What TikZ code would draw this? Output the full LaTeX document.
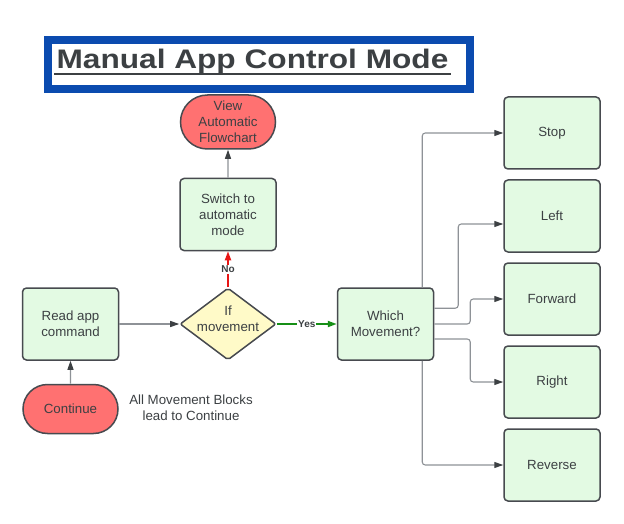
\documentclass[tikz,border=0pt]{standalone}
\usepackage{fontspec}
\setmainfont{Liberation Sans}
\usepackage{tikz}
\usetikzlibrary{arrows.meta, positioning, shapes.geometric, shapes.misc}
\definecolor{colorText}{HTML}{3C4043}
\definecolor{colorBorder}{HTML}{474A4F}
\definecolor{colorLine}{HTML}{8E9297}
\definecolor{colorProcess}{HTML}{E3FAE3}
\definecolor{colorTerminal}{HTML}{FF7171}
\definecolor{colorDecision}{HTML}{FFFAC8}
\definecolor{colorTitle}{HTML}{0B4BAF}
\definecolor{colorNo}{HTML}{E81515}
\definecolor{colorYes}{HTML}{168F16}
\tikzset{
  process/.style={draw=colorBorder, line width=1.5pt, fill=colorProcess, rounded corners=4pt,
    minimum width=96pt, minimum height=72pt, align=center, text=colorText,
    font=\fontsize{13.3}{16}\selectfont},
  terminal/.style={process, sharp corners, rounded rectangle, fill=colorTerminal, inner sep=1pt,
    minimum width=97pt},
  decision/.style={draw=colorBorder, line width=1.5pt, fill=colorDecision, diamond, rounded corners=2pt,
    minimum width=96pt, minimum height=72pt, inner sep=0pt},
  link/.style={draw=colorLine, line width=1.1pt, rounded corners=3pt,
    -{Triangle[length=9pt, width=6pt, color=colorText]}},
  answer/.style={line width=1.8pt, -{Triangle[length=9pt, width=6pt]}},
  tag/.style={fill=white, inner sep=1pt, text=colorText, font=\fontsize{10}{12}\selectfont\bfseries}
}

\begin{document}
\begin{tikzpicture}[x=1pt, y=-1pt, node distance=9.5pt]
\useasboundingbox[fill=white] (0,0) rectangle (624,524);
% title
\draw[colorTitle, line width=8pt] (47.5,40) rectangle (470,89);
\node[anchor=base, inner sep=0pt, text=colorText, font=\fontsize{26.8}{30}\selectfont\bfseries] (title) at (252.5,69) {\scalebox{1.18}[1]{Manual App Control Mode}};
\draw[colorText, line width=2.4pt] ([yshift=-5pt, xshift=-2pt]title.base west) -- ([yshift=-5pt, xshift=2pt]title.base east);
% left part
\node[decision, label={[align=center, yshift=5pt, text=colorText, font=\fontsize{13.3}{16}\selectfont]center:If\\movement}] (ifmove) at (228,324) {};
\node[process, left=60pt of ifmove] (read) {Read app\\command};
\node[terminal, minimum height=49pt, below=23pt of read] (cont) {Continue};
\node[process, above=36pt of ifmove] (switch) {Switch to\\automatic\\mode};
\node[terminal, minimum height=54pt, above=28pt of switch] (view) {View\\Automatic\\Flowchart};
\node[align=center, text=colorText, font=\fontsize{13.3}{16}\selectfont] (note) at (191,408) {All Movement Blocks\\lead to Continue};
% right part
\node[process, right=60pt of ifmove] (which) {Which\\Movement?};
\node[process] (stop) at (552,133) {Stop};
\node[process, below=of stop] (left) {Left};
\node[process, below=of left] (forward) {Forward};
\node[process, below=of forward] (right) {Right};
\node[process, below=of right] (reverse) {Reverse};
% connectors
\draw[link] (cont) -- (read);
\draw[link] (read) -- (ifmove);
\draw[link] (switch) -- (view);
\draw[answer, colorNo] (ifmove) -- node[tag]{No} (switch);
\draw[answer, colorYes] (ifmove) -- node[tag]{Yes} (which);
\draw[link] ([xshift=-12pt]which.north east) |- (stop.west);
\draw[link] ([yshift=-21pt]which.north east) -- ++(24,0) |- ([yshift=-8pt]left.west);
\draw[link] (which.east) -- ++(36,0) |- (forward.west);
\draw[link] ([yshift=-15pt]which.east) -- ++(36,0) |- (right.west);
\draw[link] ([xshift=-12pt]which.south east) |- (reverse.west);
\end{tikzpicture}
\end{document}
